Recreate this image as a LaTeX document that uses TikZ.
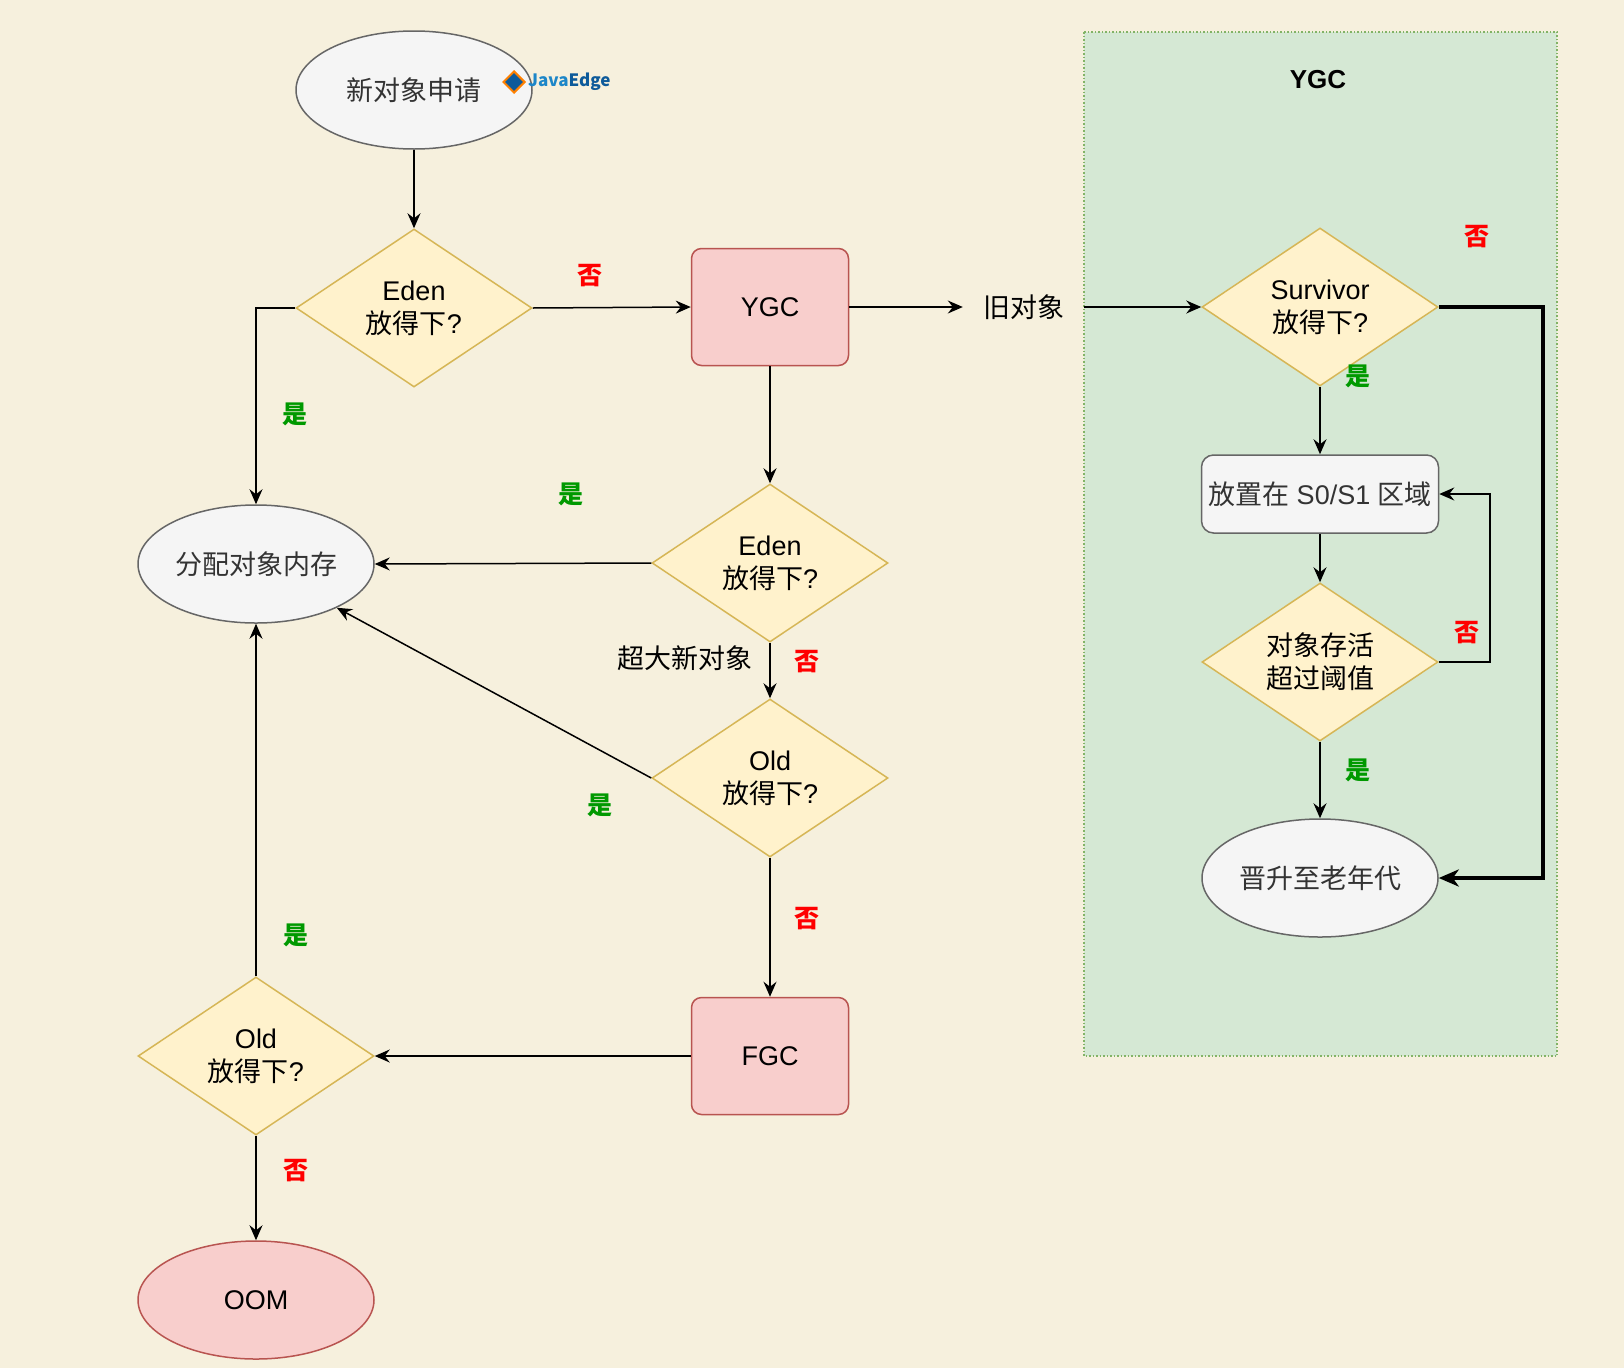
\documentclass[tikz,border=0pt]{standalone}
\usepackage{fontspec}
\setmainfont{Liberation Sans}
\newfontfamily\cjk{Noto Sans CJK SC}
\usetikzlibrary{shapes.geometric,arrows.meta}
\definecolor{paper}{HTML}{F6F0DD}
\definecolor{grayfill}{HTML}{F5F5F5}
\definecolor{graydraw}{HTML}{666666}
\definecolor{graytext}{HTML}{333333}
\definecolor{yellowfill}{HTML}{FFF2CC}
\definecolor{yellowdraw}{HTML}{D6B656}
\definecolor{redfill}{HTML}{F8CECC}
\definecolor{reddraw}{HTML}{B85450}
\definecolor{greenfill}{HTML}{D5E8D4}
\definecolor{greendraw}{HTML}{82B366}
\definecolor{yescol}{HTML}{009900}
\definecolor{nocol}{HTML}{FF0000}
\definecolor{javablue}{HTML}{1C86C8}
\definecolor{edgeblue}{HTML}{0D5A9A}

\begin{document}
\begin{tikzpicture}[x=1pt,y=-1pt,
    txt/.style={font=\fontsize{27}{33}\selectfont,align=center,inner sep=0pt},
    terminal/.style={txt,ellipse,draw=graydraw,fill=grayfill,text=graytext,line width=1.5pt,minimum width=236pt,minimum height=118pt},
    decision/.style={txt,diamond,shape aspect=1.5,draw=yellowdraw,fill=yellowfill,line width=1.5pt,minimum width=236pt,minimum height=158pt},
    gcbox/.style={txt,rectangle,rounded corners=10pt,draw=reddraw,fill=redfill,line width=1.5pt,minimum width=157pt,minimum height=117pt},
    yes/.style={txt,text=yescol,font=\fontsize{25}{30}\selectfont\cjk\bfseries},
    no/.style={txt,text=nocol,font=\fontsize{25}{30}\selectfont\cjk\bfseries},
    arr/.style={-{Stealth[length=15pt,width=13pt,inset=5pt]},line width=1.5pt},
    thickarr/.style={-{Stealth[length=20pt,width=17pt,inset=6pt]},line width=4pt}]
    \fill[paper] (0,0) rectangle (1624,1368); %fondo
    \useasboundingbox (0,0) rectangle (1624,1368);

    % zona YGC
    \draw[greendraw,fill=greenfill,dotted,line width=1.5pt] (1084,32) rectangle (1557,1056); %contenedor
    \node[txt,font=\fontsize{26}{30}\selectfont\bfseries] (ygctitle) at (1318,80) {YGC}; %titulo

    % columna izquierda
    \node[terminal] (start) at (414,90) {\cjk 新对象申请};
    \node[diamond,fill=edgeblue,draw=orange,line width=2pt,minimum size=22pt,inner sep=0pt] (logo) at (514,82) {}; %icono
    \node[anchor=west,inner sep=0pt,font=\fontsize{17}{20}\selectfont\cjk\bfseries] (brand) at (528,82) {\textcolor{javablue}{Java}\textcolor{edgeblue}{Edge}};
    \node[decision] (eden1) at (414,308) {Eden\\{\cjk 放得下}?};
    \node[terminal] (alloc) at (256,564) {\cjk 分配对象内存};
    \node[decision] (old2) at (256,1056) {Old\\{\cjk 放得下}?};
    \node[txt,ellipse,draw=reddraw,fill=redfill,line width=1.5pt,minimum width=236pt,minimum height=118pt] (oom) at (256,1300) {OOM};

    % columna central
    \node[gcbox] (ygc) at (770,307) {YGC};
    \node[decision] (eden2) at (770,563) {Eden\\{\cjk 放得下}?};
    \node[decision] (old1) at (770,778) {Old\\{\cjk 放得下}?};
    \node[gcbox] (fgc) at (770,1056) {FGC};
    \node[txt,minimum width=121pt] (oldobj) at (1023.5,307) {\cjk 旧对象};

    % columna derecha
    \node[decision] (surv) at (1320,307) {Survivor\\{\cjk 放得下}?};
    \node[txt,rectangle,rounded corners=12pt,draw=graydraw,fill=grayfill,text=graytext,line width=1.5pt,minimum width=237pt,minimum height=78pt] (place) at (1320,494) {{\cjk 放置在} S0/S1 {\cjk 区域}};
    \node[decision] (alive) at (1320,662) {\cjk 对象存活\\\cjk 超过阈值};
    \node[terminal] (promote) at (1320,878) {\cjk 晋升至老年代};

    % flechas
    \draw[arr] (start) -- (eden1);
    \draw[arr] (eden1.east) -- (ygc.west);
    \draw[arr] (eden1.west) -| (alloc.north);
    \draw[arr] (ygc.east) -- (oldobj.west);
    \draw[arr] (oldobj.east) -- (surv.west);
    \draw[arr] (ygc.south) -- (eden2.north);
    \draw[arr] (eden2.west) -- (alloc.east);
    \draw[arr] (eden2.south) -- (old1.north);
    \draw[arr] (old1.west) -- (alloc);
    \draw[arr] (old1.south) -- (fgc.north);
    \draw[arr] (fgc.west) -- (old2.east);
    \draw[arr] (old2.north) -- (alloc.south);
    \draw[arr] (old2.south) -- (oom.north);
    \draw[arr] (surv.south) -- (place.north);
    \draw[arr] (place.south) -- (alive.north);
    \draw[arr] (alive.east) -- ++(51,0) |- (place.east); %vuelta a S0/S1
    \draw[arr] (alive.south) -- (promote.north);
    \draw[thickarr] (surv.east) -- ++(104,0) |- (promote.east); %linea gruesa

    % etiquetas
    \node[no] (n1) at (590,276) {否};
    \node[yes] (y1) at (295,414) {是};
    \node[yes] (y2) at (571,494) {是};
    \node[txt] (big) at (685,658) {\cjk 超大新对象};
    \node[no] (n2) at (807,662) {否};
    \node[yes] (y3) at (600,805) {是};
    \node[no] (n3) at (807,919) {否};
    \node[yes] (y4) at (296,935) {是};
    \node[no] (n4) at (296,1171) {否};
    \node[no] (n5) at (1477,237) {否};
    \node[yes] (y5) at (1358,376) {是};
    \node[no] (n6) at (1467,633) {否};
    \node[yes] (y6) at (1358,770) {是};
\end{tikzpicture}
\end{document}
